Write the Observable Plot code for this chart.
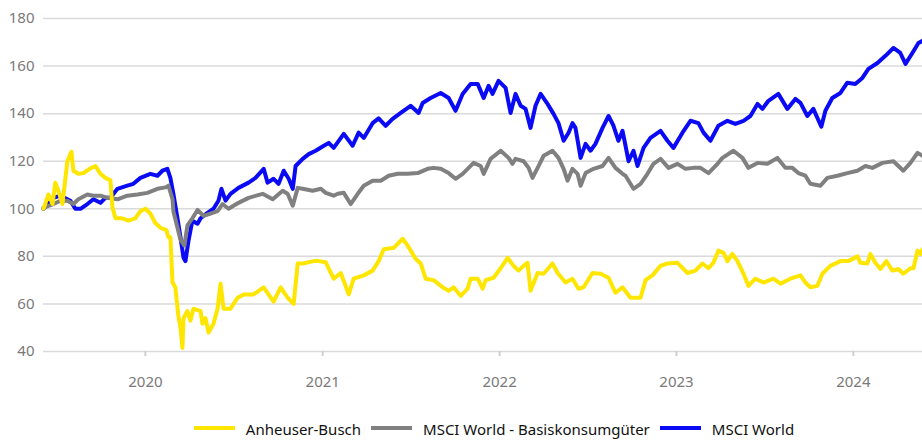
<!DOCTYPE html>
<html>
<head>
<meta charset="utf-8">
<script src="https://cdn.jsdelivr.net/npm/d3@7"></script>
<script src="https://cdn.jsdelivr.net/npm/@observablehq/plot@0.6"></script>
<style>
  html, body { margin: 0; padding: 0; background: #fff; }
  #wrap { position: relative; width: 922px; height: 441px; overflow: hidden; font-family: "Noto Sans", sans-serif; }
  #legend { position: absolute; top: 420px; left: 66px; width: 856px; display: flex; justify-content: center; font-size: 15px; line-height: 18px; color: #111; }
  .item { display: flex; align-items: flex-start; margin: 0 5px; }
  .sw { width: 41px; height: 4px; margin-top: 6px; margin-right: 11px; }
</style>
</head>
<body>
<div id="wrap"><div id="chart"></div><div id="legend"></div></div>
<script>
// decimal-year time stamps and index values (start = 100)
const seriesNames = ["Anheuser-Busch", "MSCI World - Basiskonsumgüter", "MSCI World"];
const seriesColors = ["#FFE600", "#808080", "#0A0AF5"];

const abTime = [2019.424,2019.452,2019.475,2019.491,2019.508,2019.531,2019.559,2019.582,2019.593,2019.621,2019.650,2019.689,2019.718,2019.746,2019.774,2019.802,2019.814,2019.831,2019.870,2019.904,2019.943,2019.972,2020.000,2020.028,2020.056,2020.085,2020.119,2020.130,2020.141,2020.153,2020.169,2020.186,2020.198,2020.209,2020.215,2020.237,2020.254,2020.271,2020.311,2020.322,2020.339,2020.356,2020.384,2020.407,2020.424,2020.441,2020.480,2020.520,2020.554,2020.610,2020.667,2020.723,2020.763,2020.802,2020.836,2020.859,2020.887,2020.949,2020.977,2021.017,2021.062,2021.102,2021.147,2021.175,2021.232,2021.282,2021.316,2021.345,2021.401,2021.452,2021.480,2021.525,2021.554,2021.582,2021.627,2021.678,2021.712,2021.740,2021.780,2021.819,2021.836,2021.876,2021.904,2021.921,2021.966,2022.006,2022.045,2022.079,2022.107,2022.136,2022.158,2022.175,2022.215,2022.249,2022.299,2022.328,2022.373,2022.412,2022.446,2022.475,2022.525,2022.571,2022.616,2022.655,2022.695,2022.740,2022.797,2022.825,2022.864,2022.910,2022.949,2023.006,2023.062,2023.107,2023.147,2023.181,2023.209,2023.237,2023.266,2023.288,2023.316,2023.345,2023.379,2023.407,2023.446,2023.492,2023.548,2023.588,2023.644,2023.701,2023.729,2023.757,2023.797,2023.825,2023.870,2023.927,2023.972,2024.023,2024.040,2024.079,2024.096,2024.124,2024.153,2024.186,2024.220,2024.254,2024.282,2024.322,2024.339,2024.362,2024.378,2024.390];
const abValue = [100,106,102,111,107.5,102,120,124,116,114.7,115,117,118,114.7,113,112,100.5,96,96,95,96,99,100,98,94,92,91,88,88,69,67,55,50,41.5,54,57,53,58,57,51.7,54,48,51.7,58,68.5,58,58,62.6,64,64,67,61,67,62.6,60,77,77,78,78,77.5,70.6,73,64,70.6,72,74,78,83,83.6,87.4,84.5,79,77,70.6,70,67,65.5,67,63.4,66.4,70.6,70.6,66.4,70,71,75,79.4,76,74,76,77.3,65.5,73,72.7,77,73,69,70.6,66.4,67,73,72.7,71,64.7,67,62.6,62.6,70,72,76,77,77.3,73,74,77,75,77.3,82.4,81.5,78,81,78,72.7,67.6,70.6,69,70.6,68.5,70.6,72,69,67,67.6,72.7,76,78,78,80,77.3,77,81,77.3,74.7,78,74,74.7,72.7,75,75,82.4,81,83];

const csTime = [2019.424,2019.480,2019.520,2019.559,2019.593,2019.621,2019.672,2019.706,2019.746,2019.785,2019.842,2019.898,2019.955,2020.011,2020.068,2020.113,2020.130,2020.153,2020.158,2020.181,2020.198,2020.220,2020.237,2020.265,2020.294,2020.328,2020.367,2020.407,2020.435,2020.469,2020.525,2020.582,2020.661,2020.718,2020.774,2020.802,2020.831,2020.859,2020.887,2020.943,2020.989,2021.017,2021.062,2021.085,2021.119,2021.158,2021.198,2021.232,2021.282,2021.328,2021.373,2021.424,2021.480,2021.537,2021.593,2021.627,2021.667,2021.712,2021.751,2021.791,2021.825,2021.853,2021.893,2021.910,2021.949,2022.006,2022.051,2022.073,2022.090,2022.136,2022.164,2022.186,2022.215,2022.249,2022.299,2022.333,2022.362,2022.384,2022.412,2022.441,2022.458,2022.486,2022.531,2022.582,2022.616,2022.655,2022.695,2022.712,2022.757,2022.797,2022.836,2022.870,2022.910,2022.955,2023.006,2023.051,2023.096,2023.136,2023.181,2023.232,2023.260,2023.322,2023.373,2023.407,2023.458,2023.514,2023.571,2023.616,2023.655,2023.689,2023.729,2023.757,2023.814,2023.853,2023.910,2023.966,2024.023,2024.068,2024.107,2024.164,2024.226,2024.282,2024.322,2024.362,2024.390];
const csValue = [100.5,102,103.4,103.4,102,104,106,105.5,105.5,104.6,104,105.5,106,106.7,108.4,109,109.7,104,99,92,87,84.5,93,96,99.5,97,98,99,102,100,102.5,104.6,106.3,104,107.6,106.3,101.3,108.8,108.4,107.6,108.4,106.7,105.5,106.3,106.7,102,106.3,109.7,111.8,111.8,113.9,114.7,114.7,115,116.8,117.2,116.8,115,112.6,114.7,117.2,119.3,118,114.7,121,124.4,121.4,118.9,121,120,117.2,113,117.2,122.3,124.4,121.4,116.8,111.8,116.8,114.7,109.7,115,116.8,118,121.4,117.2,114.7,113.9,108.4,110.5,114.7,118.9,121,117.2,118.9,116.8,117.2,117.2,115,118.9,121.4,124.4,121.4,117.2,119.3,118.9,121.4,117.2,117.2,115,113.9,110.5,109.7,113,113.9,115,116,118,117.2,119.3,120,116,119.3,123.5,122.3];

const mwTime = [2019.424,2019.480,2019.520,2019.576,2019.604,2019.633,2019.672,2019.706,2019.746,2019.774,2019.802,2019.842,2019.898,2019.932,2019.972,2020.028,2020.068,2020.096,2020.124,2020.141,2020.158,2020.181,2020.198,2020.215,2020.226,2020.243,2020.265,2020.294,2020.311,2020.350,2020.384,2020.412,2020.429,2020.452,2020.480,2020.525,2020.582,2020.621,2020.667,2020.689,2020.723,2020.751,2020.780,2020.808,2020.831,2020.847,2020.887,2020.921,2020.960,2021.006,2021.034,2021.062,2021.119,2021.169,2021.203,2021.232,2021.282,2021.316,2021.356,2021.395,2021.441,2021.497,2021.542,2021.565,2021.610,2021.667,2021.712,2021.751,2021.791,2021.836,2021.876,2021.910,2021.938,2021.960,2021.994,2022.034,2022.062,2022.090,2022.119,2022.147,2022.175,2022.203,2022.232,2022.271,2022.305,2022.333,2022.362,2022.390,2022.412,2022.429,2022.458,2022.486,2022.514,2022.542,2022.582,2022.616,2022.644,2022.672,2022.695,2022.712,2022.729,2022.757,2022.780,2022.814,2022.853,2022.910,2022.949,2022.983,2023.034,2023.079,2023.124,2023.153,2023.192,2023.237,2023.288,2023.333,2023.379,2023.418,2023.458,2023.486,2023.520,2023.576,2023.627,2023.672,2023.701,2023.740,2023.774,2023.819,2023.842,2023.881,2023.927,2023.966,2024.011,2024.051,2024.085,2024.136,2024.181,2024.226,2024.265,2024.294,2024.333,2024.367,2024.390];
const mwValue = [100,104.6,105.5,103.4,100,100,102,104,102.5,104.6,104.6,108.4,109.7,110.5,113,114.7,113.9,116,116.8,113,106.3,96,88,79.4,78,86.5,95,93.7,96,98.3,100,103.4,108.4,103.4,106.3,108.8,111,113,116.8,111,112.6,110.5,116,112.6,108.4,118,121,123,124.4,126.5,127.7,125.6,131.5,126.5,132,129.8,136,138,134.9,137.8,140.3,143.3,140.3,144.5,146.6,148.7,146.6,141.2,148.3,152.5,152.5,146.6,151.7,148.3,153.8,150.8,140.3,148.3,143.3,142,134,143.3,148.3,144.1,139.9,136,128.6,132,136,134,121.4,127.3,124.4,127.3,134,139,134.9,128.6,132.8,126.5,120,124.4,118,125.6,129.8,132.8,128.6,125.6,132,137,136,132,128.6,134.9,137,135.7,137,139,144.1,142,145.4,148.3,142,146.2,144.5,139,142,134.5,141.2,146.6,148.7,153,152.5,155,158.8,161.3,164.3,167.6,165.5,160.9,165.5,169.7,170.6];

const yTicks = [40, 60, 80, 100, 120, 140, 160, 180];
const xTickYears = [2020, 2021, 2022, 2023, 2024];
const xExtent = [2019.424, 2024.39];

function toDate(t) {
  const y = Math.floor(t);
  const a = Date.UTC(y, 0, 1), b = Date.UTC(y + 1, 0, 1);
  return new Date(a + (t - y) * (b - a));
}
const rows = (ts, vs) => ts.map((t, i) => ({date: toDate(t), value: vs[i]}));
const series = [rows(abTime, abValue), rows(csTime, csValue), rows(mwTime, mwValue)];

const chart = Plot.plot({
  width: 922,
  height: 400,
  marginLeft: 43,
  marginRight: 0,
  marginTop: 18,
  marginBottom: 49,
  style: {fontFamily: '"Noto Sans", sans-serif', fontSize: "14px", background: "#fff", overflow: "visible"},
  x: {type: "utc", domain: xExtent.map(toDate)},
  y: {domain: [40, 180]},
  marks: [
    Plot.gridY(yTicks, {stroke: "#dadada", strokeOpacity: 1, strokeWidth: 1.5}),
    Plot.axisY(yTicks, {tickSize: 0, tickPadding: 9, label: null, fill: "#7a7a7a", fontSize: 15}),
    Plot.axisX(xTickYears.map(y => toDate(y)), {tickSize: 5, tickPadding: 20, label: null,
      tickFormat: d => String(d.getUTCFullYear()), stroke: "#cfcfcf", strokeWidth: 2, fill: "#7a7a7a", fontSize: 15}),
    Plot.line(series[2], {x: "date", y: "value", stroke: seriesColors[2], strokeWidth: 4}),
    Plot.line(series[1], {x: "date", y: "value", stroke: seriesColors[1], strokeWidth: 4}),
    Plot.line(series[0], {x: "date", y: "value", stroke: seriesColors[0], strokeWidth: 4})
  ]
});
document.getElementById("chart").appendChild(chart);

const legend = document.getElementById("legend");
seriesNames.forEach((name, i) => {
  const item = document.createElement("div");
  item.className = "item";
  const sw = document.createElement("div");
  sw.className = "sw";
  sw.style.background = seriesColors[i];
  const lab = document.createElement("span");
  lab.textContent = name;
  item.appendChild(sw);
  item.appendChild(lab);
  legend.appendChild(item);
});
</script>
</body>
</html>
